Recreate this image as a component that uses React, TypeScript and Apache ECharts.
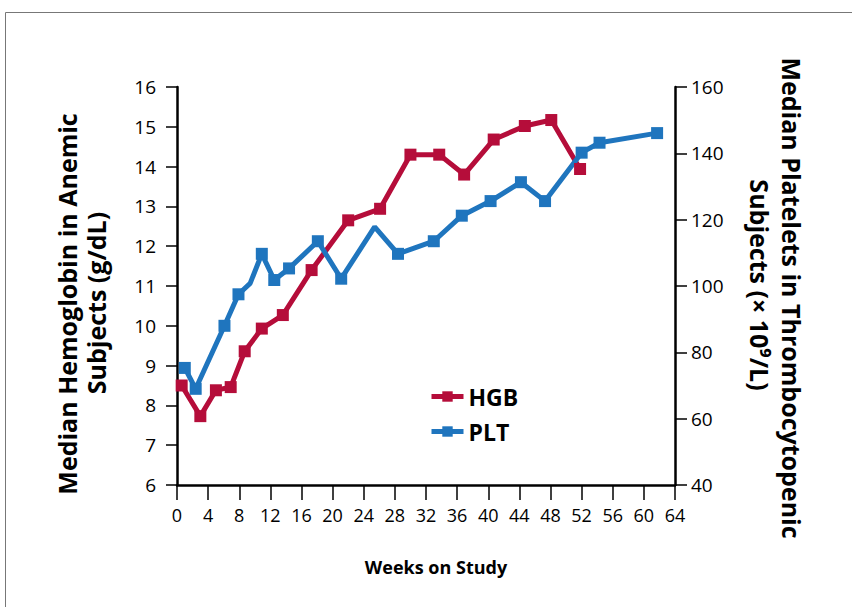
import React, { useEffect, useRef } from "react";
import * as echarts from "echarts";

// Weeks on study (read against the reference's tick labels)
const hgbWeeks = [0.6, 3.0, 5.0, 6.9, 8.7, 10.9, 13.6, 17.3, 22.0, 26.1, 30.0, 33.7, 36.9, 40.7, 44.7, 48.1, 51.8];
// Median hemoglobin (g/dL)
const hgbValues = [8.5, 7.73, 8.38, 8.46, 9.36, 9.93, 10.27, 11.4, 12.65, 12.94, 14.3, 14.3, 13.8, 14.68, 15.02, 15.17, 13.94];

const pltWeeks = [1.0, 2.4, 6.1, 7.9, 9.4, 10.9, 12.5, 14.4, 18.1, 21.1, 25.4, 28.4, 33.0, 36.6, 40.3, 44.2, 47.3, 52.0, 54.3, 61.7];
// Median platelets (x 10^9/L)
const pltValues = [75.3, 69.0, 88.0, 97.5, 100.8, 109.7, 101.8, 105.3, 113.5, 102.2, 117.8, 109.7, 113.5, 121.2, 125.6, 131.3, 125.6, 140.2, 143.2, 146.1];
// whether the reference shows a marker at that point
const pltMarked = [true, true, true, true, false, true, true, true, true, true, false, true, true, true, true, true, true, true, true, true];

const seriesNames = ["HGB", "PLT"];
const leftTitle = ["Median Hemoglobin in Anemic", "Subjects (g/dL)"];
const rightTitle = ["Median Platelets in Thrombocytopenic", "Subjects (× 10⁹/L)"];
const xTitle = "Weeks on Study";

const RED = "#B50D3A";
const BLUE = "#1F75BE";
const FONT = "'Open Sans', 'Noto Sans', sans-serif";

export default function App() {
  const ref = useRef<HTMLDivElement>(null);
  useEffect(() => {
    document.body.style.margin = "0";
    const chart = echarts.init(ref.current!, null, { renderer: "svg" });
    const hgbData = hgbWeeks.map((w, i) => [w, hgbValues[i]]);
    const pltData = pltWeeks.map((w, i) =>
      pltMarked[i] ? { value: [w, pltValues[i]] } : { value: [w, pltValues[i]], symbol: "none" }
    );
    const axisLine = { show: true, lineStyle: { color: "#000", width: 2.5 } };
    const axisTick = (len: number) => ({ show: true, inside: false, length: len, lineStyle: { color: "#000", width: 1.5 } });
    chart.setOption({
      animation: false,
      backgroundColor: "#fff",
      grid: { left: 177, right: 177, top: 87, bottom: 122, containLabel: false },
      legend: {
        data: seriesNames,
        orient: "vertical",
        left: 424,
        top: 380,
        itemWidth: 32,
        itemHeight: 13,
        itemGap: 12,
        lineStyle: { width: 5 },
        textStyle: { fontFamily: FONT, fontSize: 23, fontWeight: "bold", color: "#000" },
      },
      xAxis: {
        type: "value",
        min: 0,
        max: 64,
        interval: 4,
        axisLine,
        axisTick: axisTick(15),
        splitLine: { show: false },
        axisLabel: { margin: 21, fontFamily: FONT, fontSize: 18, color: "#000" },
      },
      yAxis: [
        {
          type: "value",
          min: 6,
          max: 16,
          interval: 1,
          position: "left",
          axisLine,
          axisTick: axisTick(11),
          splitLine: { show: false },
          axisLabel: { margin: 21, fontFamily: FONT, fontSize: 19, color: "#000" },
        },
        {
          type: "value",
          min: 40,
          max: 160,
          interval: 20,
          position: "right",
          axisLine,
          axisTick: axisTick(12),
          splitLine: { show: false },
          axisLabel: { margin: 16, fontFamily: FONT, fontSize: 19, color: "#000" },
        },
      ],
      series: [
        {
          name: seriesNames[0],
          type: "line",
          yAxisIndex: 0,
          data: hgbData,
          symbol: "rect",
          symbolSize: 12,
          lineStyle: { color: RED, width: 5 },
          itemStyle: { color: RED },
        },
        {
          name: seriesNames[1],
          type: "line",
          yAxisIndex: 1,
          data: pltData,
          symbol: "rect",
          symbolSize: 12,
          lineStyle: { color: BLUE, width: 5 },
          itemStyle: { color: BLUE },
        },
      ],
      graphic: [
        {
          type: "rect",
          silent: true,
          z: -10,
          shape: { x: 5.5, y: 12.5, width: 1000, height: 1000 },
          style: { fill: "none", stroke: "#777", lineWidth: 1 },
        },
        {
          type: "text",
          x: 67,
          y: 304,
          rotation: Math.PI / 2,
          style: { text: leftTitle[0], font: `bold 25px ${FONT}`, fill: "#000", align: "center", verticalAlign: "middle" },
        },
        {
          type: "text",
          x: 96,
          y: 303,
          rotation: Math.PI / 2,
          style: { text: leftTitle[1], font: `bold 25px ${FONT}`, fill: "#000", align: "center", verticalAlign: "middle" },
        },
        {
          type: "text",
          x: 792,
          y: 298,
          rotation: -Math.PI / 2,
          style: { text: rightTitle[0], font: `bold 25px ${FONT}`, fill: "#000", align: "center", verticalAlign: "middle" },
        },
        {
          type: "text",
          x: 760,
          y: 285,
          rotation: -Math.PI / 2,
          style: { text: rightTitle[1], font: `bold 25px ${FONT}`, fill: "#000", align: "center", verticalAlign: "middle" },
        },
        {
          type: "text",
          x: 436,
          y: 567,
          style: { text: xTitle, font: `bold 18px ${FONT}`, fill: "#000", align: "center", verticalAlign: "middle" },
        },
      ],
    });
    return () => chart.dispose();
  }, []);
  return <div ref={ref} style={{ width: 852, height: 607 }} />;
}
